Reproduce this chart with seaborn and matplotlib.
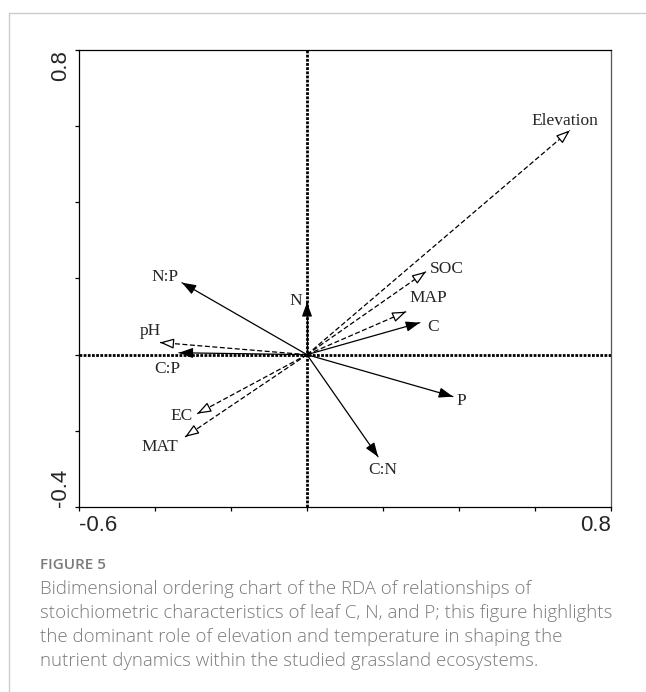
import seaborn as sns
import matplotlib.pyplot as plt
import matplotlib.lines as mlines
import pandas as pd
import numpy as np

# RDA biplot scores
variables = ['Elevation', 'SOC', 'MAP', 'C', 'P', 'C:N', 'N', 'N:P', 'pH', 'C:P', 'EC', 'MAT']
rda1 = [0.692, 0.313, 0.261, 0.297, 0.384, 0.187, 0.0, -0.329, -0.387, -0.337, -0.289, -0.321]
rda2 = [0.589, 0.218, 0.113, 0.084, -0.110, -0.268, 0.137, 0.189, 0.032, 0.005, -0.155, -0.216]
kind = ['env', 'env', 'env', 'resp', 'resp', 'resp', 'resp', 'resp', 'env', 'resp', 'env', 'env']

x_ticks = [-0.6, -0.4, -0.2, 0.0, 0.2, 0.4, 0.6, 0.8]
y_ticks = [-0.4, -0.2, 0.0, 0.2, 0.4, 0.6, 0.8]

caption_title = 'FIGURE 5'
caption_lines = [
    'Bidimensional ordering chart of the RDA of relationships of',
    'stoichiometric characteristics of leaf C, N, and P; this figure highlights',
    'the dominant role of elevation and temperature in shaping the',
    'nutrient dynamics within the studied grassland ecosystems.',
]

# label offsets from arrow tip, in pixels
label_offsets = {
    'Elevation': (-5, 9), 'SOC': (21, 3), 'MAP': (22, 14), 'C': (13, -4),
    'P': (8, -4), 'C:N': (5, -13), 'N': (-11, 1), 'N:P': (-17, 6),
    'pH': (-10, 11), 'C:P': (-12, -16), 'EC': (-16, -2), 'MAT': (-25, -10),
}

# long table: one row at origin and one at tip for every arrow
rows = []
for v, x, y, k in zip(variables, rda1, rda2, kind):
    rows.append({'variable': v, 'x': 0.0, 'y': 0.0, 'kind': k, 'order': 0})
    rows.append({'variable': v, 'x': x, 'y': y, 'kind': k, 'order': 1})
df = pd.DataFrame(rows)

sns.set_style('ticks')
fig = plt.figure(figsize=(6.46, 6.92), dpi=100)
ax = fig.add_axes([79 / 646, 1 - 507 / 692, 532 / 646, 457 / 692])

sns.lineplot(data=df, x='x', y='y', units='variable', style='kind', estimator=None,
             sort=False, color='black', linewidth=0.9, legend=False, ax=ax,
             dashes={'resp': '', 'env': (4, 2)}, style_order=['resp', 'env'])

# arrow heads
for v, x, y, k in zip(variables, rda1, rda2, kind):
    fc = 'black' if k == 'resp' else 'white'
    ax.annotate('', xy=(x, y), xytext=(x * 0.97, y * 0.97),
                arrowprops=dict(arrowstyle='-|>,head_length=0.6,head_width=0.22',
                                mutation_scale=14, fc=fc, ec='black', lw=0.9,
                                shrinkA=0, shrinkB=0))
    dx, dy = label_offsets[v]
    ax.annotate(v, xy=(x, y), xytext=(dx, dy), textcoords='offset pixels',
                ha='center', va='center', fontsize=12.5, family='Liberation Serif')

ax.axhline(0, color='black', lw=2, ls=(0, (1, 0.5)), zorder=1)
ax.axvline(0, color='black', lw=2, ls=(0, (1, 0.5)), zorder=1)

ax.set_xlim(-0.6, 0.8)
ax.set_ylim(-0.4, 0.8)
ax.set_xticks(x_ticks)
ax.set_yticks(y_ticks)
ax.set_xticklabels(['-0.6'] + [''] * 6 + ['0.8'])
ax.set_yticklabels(['-0.4'] + [''] * 5 + ['0.8'])
ax.set_xlabel('')
ax.set_ylabel('')
ax.tick_params(length=3, width=0.9, color='black', labelsize=16, pad=3)
for lab in ax.get_xticklabels():
    lab.set_family('Liberation Sans')
ax.get_xticklabels()[0].set_ha('left')
ax.get_xticklabels()[-1].set_ha('right')
for lab in ax.get_yticklabels():
    lab.set_family('Liberation Sans')
    lab.set_rotation(90)
ax.get_yticklabels()[0].set_va('bottom')
ax.get_yticklabels()[-1].set_va('top')
for s in ax.spines.values():
    s.set_visible(True)
    s.set_color('black')
    s.set_linewidth(0.9)
ax.spines['right'].set_color('#555555')

# card frame
fig.add_artist(mlines.Line2D([9 / 646, 1], [1 - 13 / 692, 1 - 13 / 692], color='#cccccc', lw=1))
fig.add_artist(mlines.Line2D([9 / 646, 9 / 646], [0, 1 - 13 / 692], color='#cccccc', lw=1))

fig.text(40 / 646, 1 - 565 / 692, caption_title, color='#7a7a7a', fontsize=11,
         family='Open Sans', weight='semibold', va='center')
for i, line in enumerate(caption_lines):
    fig.text(40 / 646, 1 - (589 + 24 * i) / 692, line, color='#7a7a7a', fontsize=13.4,
             family='Open Sans', weight='light', va='center')

fig.savefig('out.png', dpi=100)
